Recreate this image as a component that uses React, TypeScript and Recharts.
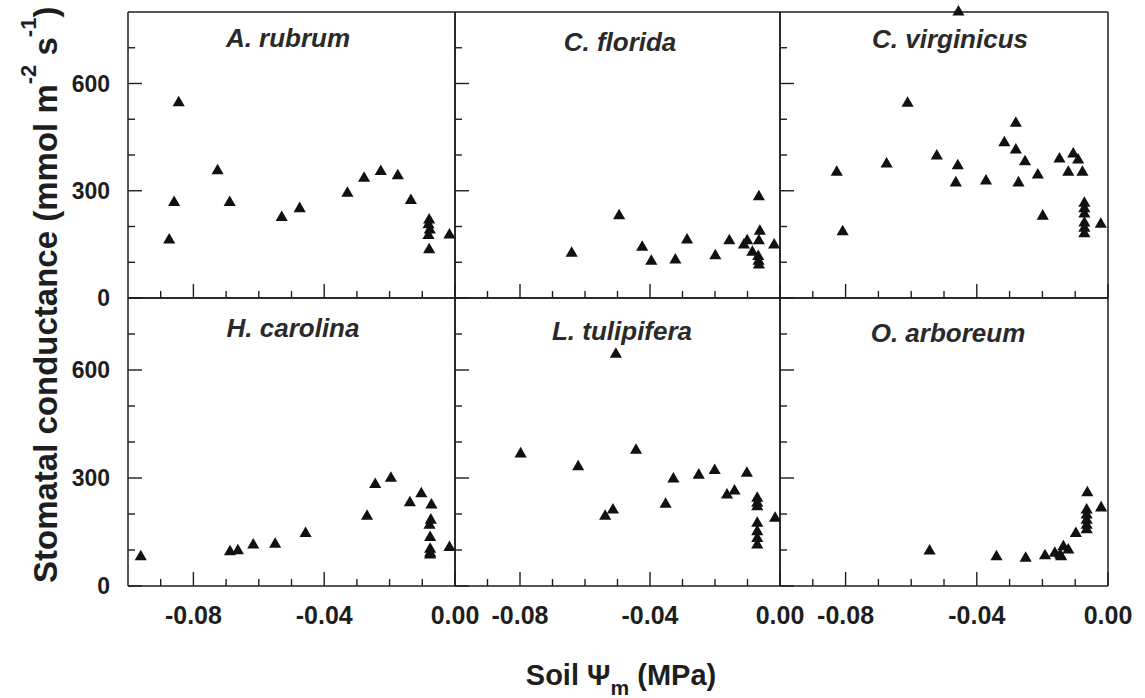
import React from "react";
import { ScatterChart, Scatter, XAxis, YAxis, ZAxis } from "recharts";

// soil water potential (MPa), stomatal conductance (mmol m-2 s-1)
const rubrum: [number, number][] = [
  [-0.0874, 162], [-0.0859, 267], [-0.0845, 546], [-0.0726, 356], [-0.0689, 267],
  [-0.053, 225], [-0.0475, 250], [-0.0329, 293], [-0.0278, 335], [-0.0227, 354],
  [-0.0175, 342], [-0.0135, 273], [-0.0079, 218], [-0.0081, 205], [-0.0077, 190],
  [-0.0081, 175], [-0.0079, 135], [-0.0017, 176],
];
const florida: [number, number][] = [
  [-0.0641, 125], [-0.0495, 230], [-0.0424, 142], [-0.0396, 103], [-0.0322, 106],
  [-0.0286, 162], [-0.0199, 118], [-0.0156, 160], [-0.0111, 148], [-0.0101, 160],
  [-0.0065, 283], [-0.0062, 187], [-0.0065, 160], [-0.0085, 128], [-0.0067, 116],
  [-0.0066, 103], [-0.0065, 92], [-0.0018, 148],
];
const virginicus: [number, number][] = [
  [-0.0827, 352], [-0.0809, 185], [-0.0675, 375], [-0.0611, 545], [-0.0522, 397],
  [-0.0456, 800], [-0.0458, 370], [-0.0464, 322], [-0.0372, 327], [-0.0316, 434],
  [-0.0281, 489], [-0.0281, 414], [-0.0253, 381], [-0.0273, 322], [-0.0214, 344],
  [-0.0199, 229], [-0.0148, 389], [-0.0121, 352], [-0.0106, 403], [-0.0091, 386],
  [-0.0078, 352], [-0.0072, 265], [-0.0072, 250], [-0.0072, 235], [-0.0072, 210],
  [-0.0072, 195], [-0.0072, 180], [-0.0022, 206],
];
const carolina: [number, number][] = [
  [-0.0961, 81], [-0.0688, 95], [-0.0664, 98], [-0.0617, 114], [-0.055, 116],
  [-0.0457, 146], [-0.0269, 194], [-0.0244, 282], [-0.0196, 299], [-0.0138, 231],
  [-0.0103, 256], [-0.0072, 225], [-0.0074, 183], [-0.0078, 169], [-0.0076, 135],
  [-0.0076, 102], [-0.0076, 91], [-0.0076, 86], [-0.0017, 107],
];
const tulipifera: [number, number][] = [
  [-0.0798, 367], [-0.0621, 331], [-0.0505, 644], [-0.0538, 194], [-0.0514, 211],
  [-0.0443, 377], [-0.0352, 227], [-0.0328, 297], [-0.025, 308], [-0.0201, 321],
  [-0.0163, 253], [-0.014, 264], [-0.0102, 313], [-0.007, 244], [-0.007, 230],
  [-0.007, 220], [-0.007, 174], [-0.007, 151], [-0.007, 132], [-0.007, 114],
  [-0.0015, 188],
];
const arboreum: [number, number][] = [
  [-0.0544, 97], [-0.034, 81], [-0.0251, 77], [-0.0192, 84], [-0.0162, 91],
  [-0.0146, 86], [-0.0136, 109], [-0.0121, 100], [-0.0143, 81], [-0.0098, 146],
  [-0.0063, 259], [-0.0065, 211], [-0.0065, 197], [-0.0065, 183], [-0.0065, 169],
  [-0.0065, 156], [-0.0021, 217],
];

const xTicks = [-0.09, -0.08, -0.07, -0.06, -0.05, -0.04, -0.03, -0.02, -0.01, 0];
const xMajor = [-0.08, -0.04, 0];
const yTicks = [0, 100, 200, 300, 400, 500, 600, 700];
const yMajor = [0, 300, 600];

const W = 1145;
const H = 698;
const colEdges = [128, 455, 780, 1108];
const rowEdges = [12, 298, 586];
const INK = "#1e1e1e";
const FONT = "'Liberation Sans', Arial, sans-serif";

const panels = [
  { name: "A. rubrum", data: rubrum, col: 0, row: 0, tx: 288, ty: 47 },
  { name: "C. florida", data: florida, col: 1, row: 0, tx: 620, ty: 51 },
  { name: "C. virginicus", data: virginicus, col: 2, row: 0, tx: 950, ty: 48 },
  { name: "H. carolina", data: carolina, col: 0, row: 1, tx: 293, ty: 337 },
  { name: "L. tulipifera", data: tulipifera, col: 1, row: 1, tx: 622, ty: 340 },
  { name: "O. arboreum", data: arboreum, col: 2, row: 1, tx: 948, ty: 342 },
];

// ticks point into the panel; the edge is passed in so only the
// coordinate along the axis comes from recharts
function BottomTick(props: any) {
  const { x, payload, showLabel, edge } = props;
  const v = payload.value;
  const major = xMajor.includes(v);
  return (
    <g>
      <line x1={x} x2={x} y1={edge} y2={edge - (major ? 14 : 7)} stroke={INK} strokeWidth={1.4} />
      {showLabel && major && (
        <text x={x} y={edge + 38} textAnchor="middle" fontSize={25} fontWeight="bold" fontFamily={FONT} fill={INK}>
          {v.toFixed(2)}
        </text>
      )}
    </g>
  );
}

function SideTick(props: any) {
  const { y, payload, showLabel, dir, edge } = props;
  const v = payload.value;
  const major = yMajor.includes(v);
  return (
    <g>
      <line x1={edge} x2={edge + dir * (major ? 14 : 7)} y1={y} y2={y} stroke={INK} strokeWidth={1.4} />
      {showLabel && major && (
        <text x={edge - 18} y={y + 8} textAnchor="end" fontSize={23} fontWeight="bold" fontFamily={FONT} fill={INK}>
          {v}
        </text>
      )}
    </g>
  );
}

function Panel({ data, col, row }: { data: [number, number][]; col: number; row: number }) {
  const left = colEdges[col];
  const right = colEdges[col + 1];
  const top = rowEdges[row];
  const bottom = rowEdges[row + 1];
  const points = data.map(([psi, gs]) => ({ psi, gs }));
  const line = { stroke: INK, strokeWidth: 1.5 };
  // axes are 1px wide/high (0 would make recharts skip them)
  return (
    <div style={{ position: "absolute", left: 0, top: 0 }}>
      <ScatterChart
        width={W}
        height={H}
        margin={{ top: top - 1, left: left - 1, right: W - right - 1, bottom: H - bottom - 1 }}
      >
        <XAxis
          xAxisId={0}
          dataKey="psi"
          type="number"
          domain={[-0.1, 0]}
          ticks={xTicks}
          interval={0}
          height={1}
          tickSize={0}
          tickMargin={0}
          tickLine={false}
          axisLine={line}
          tick={(p: any) => <BottomTick {...p} edge={bottom} showLabel={row === 1} />}
        />
        <XAxis xAxisId="t" orientation="top" type="number" domain={[-0.1, 0]} height={1} tick={false} tickLine={false} axisLine={line} />
        <YAxis
          yAxisId={0}
          dataKey="gs"
          type="number"
          domain={[0, 800]}
          ticks={yTicks}
          interval={0}
          width={1}
          tickSize={0}
          tickMargin={0}
          tickLine={false}
          axisLine={line}
          tick={(p: any) => <SideTick {...p} edge={left} dir={1} showLabel={col === 0} />}
        />
        <YAxis
          yAxisId="r"
          orientation="right"
          type="number"
          domain={[0, 800]}
          ticks={yTicks}
          interval={0}
          width={1}
          tickSize={0}
          tickMargin={0}
          tickLine={false}
          axisLine={line}
          tick={(p: any) => <SideTick {...p} edge={right} dir={-1} showLabel={false} />}
        />
        <ZAxis range={[38, 38]} />
        <Scatter data={points} shape="triangle" fill="#111" isAnimationActive={false} />
      </ScatterChart>
    </div>
  );
}

export default function App() {
  return (
    <div style={{ position: "fixed", left: 0, top: 0, width: W, height: H, background: "#fff", overflow: "hidden" }}>
      {panels.map((p) => (
        <Panel key={p.name} data={p.data} col={p.col} row={p.row} />
      ))}
      <svg width={W} height={H} style={{ position: "absolute", left: 0, top: 0, pointerEvents: "none" }}>
        {panels.map((p) => (
          <text
            key={p.name}
            x={p.tx}
            y={p.ty}
            textAnchor="middle"
            fontSize={26}
            fontWeight="bold"
            fontStyle="italic"
            fontFamily={FONT}
            fill="#2a2a2a"
          >
            {p.name}
          </text>
        ))}
        <text
          transform="translate(57,583) rotate(-90)"
          fontSize={33}
          fontWeight="bold"
          fontFamily={FONT}
          fill={INK}
        >
          Stomatal conductance (mmol m
          <tspan dy={-21} fontSize={22}>-2</tspan>
          <tspan dy={21}> s</tspan>
          <tspan dy={-21} fontSize={22}>-1</tspan>
          <tspan dy={21}>)</tspan>
        </text>
        <text x={621} y={685} textAnchor="middle" fontSize={29} fontWeight="bold" fontFamily={FONT} fill={INK}>
          Soil Ψ
          <tspan dy={10} fontSize={21}>m</tspan>
          <tspan dy={-10}> (MPa)</tspan>
        </text>
      </svg>
    </div>
  );
}
